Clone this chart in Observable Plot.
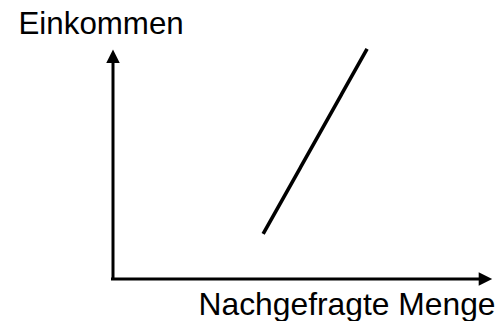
<!DOCTYPE html>
<html>
<head>
<meta charset="utf-8">
<script src="https://cdn.jsdelivr.net/npm/d3@7"></script>
<script src="https://cdn.jsdelivr.net/npm/@observablehq/plot@0.6"></script>
<style>
  html, body { margin: 0; padding: 0; background: #fff; }
  svg { display: block; }
</style>
</head>
<body>
<div id="chart"></div>
<script>
// Data (abstract units: axes run 0..100)
const xLabel = "Nachgefragte Menge";
const yLabel = "Einkommen";
const curveX = [39.6, 67.0];
const curveY = [19.7, 100.3];
const axisMax = 100;

const curve = curveX.map((x, i) => ({x, y: curveY[i]}));

// arrowhead symbol with tip at origin, pointing up
const arrowHead = {
  draw(ctx, size) {
    const s = Math.sqrt(size);
    ctx.moveTo(0, 0);
    ctx.lineTo(-s / 2, s);
    ctx.lineTo(s / 2, s);
    ctx.closePath();
  }
};
const headR = 13.5 / Math.sqrt(Math.PI);

const chart = Plot.plot({
  width: 499,
  height: 321,
  marginLeft: 112.5,
  marginRight: 7.3,
  marginTop: 49,
  marginBottom: 42.5,
  x: {domain: [0, axisMax], axis: null},
  y: {domain: [0, axisMax], axis: null},
  style: {background: "#fff", fontFamily: "'Liberation Sans', Arial, sans-serif"},
  marks: [
    Plot.ruleX([0], {y1: 0, y2: axisMax * 0.945, stroke: "#000", strokeWidth: 3, strokeLinecap: "square"}),
    Plot.ruleY([0], {x1: 0, x2: axisMax * 0.965, stroke: "#000", strokeWidth: 3, strokeLinecap: "square"}),
    Plot.dot([{x: 0, y: axisMax}], {x: "x", y: "y", symbol: arrowHead, r: headR, fill: "#000", stroke: null}),
    Plot.dot([{x: axisMax, y: 0}], {x: "x", y: "y", symbol: arrowHead, r: headR, rotate: 90, fill: "#000", stroke: null}),
    Plot.line(curve, {x: "x", y: "y", stroke: "#000", strokeWidth: 3.6, strokeLinecap: "butt"}),
    Plot.text([yLabel], {text: d => d, frameAnchor: "top-left", textAnchor: "start", lineAnchor: "bottom",
      dx: -94.5, dy: -15.7, fontSize: 31.3, fill: "#000"}),
    Plot.text([xLabel], {text: d => d, frameAnchor: "bottom-right", textAnchor: "end", lineAnchor: "bottom",
      dx: 3.3, dy: 36.3, fontSize: 31.8, fill: "#000"})
  ]
});
document.getElementById("chart").appendChild(chart);
</script>
</body>
</html>
